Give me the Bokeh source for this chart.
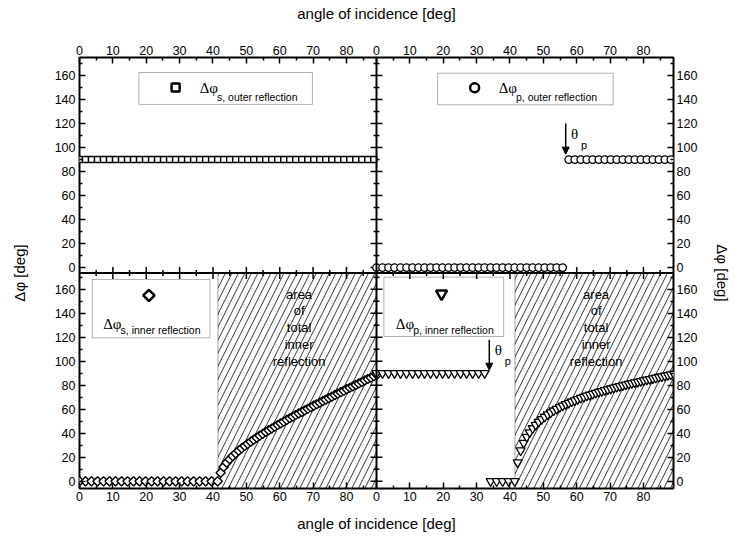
import math
from bokeh.plotting import figure
from bokeh.models import (Range1d, LinearAxis, FixedTicker, Span, BoxAnnotation,
                          Label, Arrow, NormalHead)
from bokeh.embed import file_html
from bokeh.resources import INLINE

# ---------------- data ----------------
ANGLES = [0.0, 1.8, 3.6, 5.4, 7.2, 9.0, 10.8, 12.6, 14.4, 16.2,
          18.0, 19.8, 21.6, 23.4, 25.2, 27.0, 28.8, 30.6, 32.4, 34.2,
          36.0, 37.8, 39.6, 41.4, 43.2, 45.0, 46.8, 48.6, 50.4, 52.2,
          54.0, 55.8, 57.6, 59.4, 61.2, 63.0, 64.8, 66.6, 68.4, 70.2,
          72.0, 73.8, 75.6, 77.4, 79.2, 81.0, 82.8, 84.6, 86.4, 88.2]

S_OUTER = [90, 90, 90, 90, 90, 90, 90, 90, 90, 90,
           90, 90, 90, 90, 90, 90, 90, 90, 90, 90,
           90, 90, 90, 90, 90, 90, 90, 90, 90, 90,
           90, 90, 90, 90, 90, 90, 90, 90, 90, 90,
           90, 90, 90, 90, 90, 90, 90, 90, 90, 90]

P_OUTER = [0, 0, 0, 0, 0, 0, 0, 0, 0, 0,
           0, 0, 0, 0, 0, 0, 0, 0, 0, 0,
           0, 0, 0, 0, 0, 0, 0, 0, 0, 0,
           0, 0, 90, 90, 90, 90, 90, 90, 90, 90,
           90, 90, 90, 90, 90, 90, 90, 90, 90, 90]

INNER_FLAT_X = [0.0, 1.8, 3.6, 5.4, 7.2, 9.0, 10.8, 12.6, 14.4, 16.2,
                18.0, 19.8, 21.6, 23.4, 25.2, 27.0, 28.8, 30.6, 32.4, 34.2,
                36.0, 37.8, 39.6, 41.4]
S_INNER_FLAT = [0, 0, 0, 0, 0, 0, 0, 0, 0, 0,
                0, 0, 0, 0, 0, 0, 0, 0, 0, 0,
                0, 0, 0, 0]
P_INNER_FLAT = [90, 90, 90, 90, 90, 90, 90, 90, 90, 90,
                90, 90, 90, 90, 90, 90, 90, 90, 90, 0,
                0, 0, 0, 0]

CURVE_X = [42.3, 43.2, 44.1, 45.0, 45.9, 46.8, 47.7, 48.6, 49.5, 50.4,
           51.3, 52.2, 53.1, 54.0, 54.9, 55.8, 56.7, 57.6, 58.5, 59.4,
           60.3, 61.2, 62.1, 63.0, 63.9, 64.8, 65.7, 66.6, 67.5, 68.4,
           69.3, 70.2, 71.1, 72.0, 72.9, 73.8, 74.7, 75.6, 76.5, 77.4,
           78.3, 79.2, 80.1, 81.0, 81.9, 82.8, 83.7, 84.6, 85.5, 86.4,
           87.3, 88.2, 89.1]
S_CURVE = [7.1, 12.0, 15.5, 18.4, 21.0, 23.3, 25.5, 27.5, 29.4, 31.2,
           33.0, 34.7, 36.3, 38.0, 39.5, 41.1, 42.6, 44.0, 45.5, 46.9,
           48.3, 49.7, 51.1, 52.5, 53.8, 55.2, 56.5, 57.8, 59.1, 60.4,
           61.7, 63.0, 64.2, 65.5, 66.8, 68.0, 69.3, 70.5, 71.8, 73.0,
           74.2, 75.4, 76.7, 77.9, 79.1, 80.3, 81.5, 82.7, 84.0, 85.2,
           86.4, 87.6, 88.8]
P_CURVE = [15.7, 25.6, 32.0, 36.9, 40.7, 44.1, 46.9, 49.4, 51.7, 53.7,
           55.6, 57.3, 58.9, 60.3, 61.7, 63.0, 64.2, 65.3, 66.4, 67.4,
           68.4, 69.4, 70.3, 71.2, 72.0, 72.8, 73.6, 74.4, 75.1, 75.8,
           76.5, 77.2, 77.9, 78.6, 79.2, 79.8, 80.5, 81.1, 81.7, 82.3,
           82.8, 83.4, 84.0, 84.6, 85.1, 85.7, 86.2, 86.8, 87.3, 87.9,
           88.4, 88.9, 89.5]

CRIT_ANGLE = 41.5
BREWSTER_OUTER = 56.7
BREWSTER_INNER = 33.8

X_MAJ = [0, 10, 20, 30, 40, 50, 60, 70, 80]
X_MIN = [5, 15, 25, 35, 45, 55, 65, 75, 85]
Y_MAJ = [0, 20, 40, 60, 80, 100, 120, 140, 160]
Y_MIN = [10, 30, 50, 70, 90, 110, 130, 150, 170]

X_TITLE = "angle of incidence [deg]"
Y_TITLE = "\u0394\u03c6 [deg]"

# ---------------- panel ranges ----------------
LEFT_X = (0, 89)
RIGHT_X = (0, 89)
TOP_Y = (-4.5, 175)
BOT_Y = (-6, 173.5)
XOFF = LEFT_X[1] - RIGHT_X[0]
YOFF = int(BOT_Y[1] - TOP_Y[0])

p = figure(width=734, height=535, output_backend="svg", toolbar_location=None,
           x_range=Range1d(LEFT_X[0], XOFF + RIGHT_X[1]),
           y_range=Range1d(BOT_Y[0], BOT_Y[1] + (TOP_Y[1] - TOP_Y[0])),
           x_axis_location=None, y_axis_location=None,
           min_border_left=79, min_border_right=56, min_border_top=57, min_border_bottom=47,
           background_fill_color="white", border_fill_color="white")
p.extra_x_ranges = {"xr": Range1d(RIGHT_X[0] - XOFF, RIGHT_X[1])}
p.extra_y_ranges = {"yt": Range1d(BOT_Y[0] - YOFF, TOP_Y[1])}
p.grid.visible = False
p.outline_line_color = "black"
p.outline_line_width = 2

FONT = "Liberation Sans"
SERIF = "Liberation Serif"

x_ticks = X_MAJ + [t + XOFF for t in X_MAJ]
x_minor = X_MIN + [t + XOFF for t in X_MIN]
x_over = {t + XOFF: str(t) for t in X_MAJ}
y_ticks = Y_MAJ + [t + YOFF for t in Y_MAJ]
y_minor = Y_MIN + [t + YOFF for t in Y_MIN]
y_over = {t + YOFF: str(t) for t in Y_MAJ}


def make_axis(ticks, minor, over, label, standoff, label_standoff):
    ax = LinearAxis(ticker=FixedTicker(ticks=ticks, minor_ticks=minor),
                    major_label_overrides=over, axis_label=label)
    ax.axis_line_color = None
    ax.major_tick_in = 6
    ax.major_tick_out = 0
    ax.minor_tick_in = 3
    ax.minor_tick_out = 0
    ax.major_tick_line_width = 1.5
    ax.minor_tick_line_width = 1.5
    ax.major_tick_line_color = "black"
    ax.minor_tick_line_color = "black"
    ax.major_label_text_font = FONT
    ax.major_label_text_font_size = "12.5px"
    ax.major_label_text_color = "black"
    ax.major_label_standoff = standoff
    ax.axis_label_text_font = FONT
    ax.axis_label_text_font_size = "15px"
    ax.axis_label_text_font_style = "normal"
    ax.axis_label_text_color = "black"
    ax.axis_label_standoff = label_standoff
    return ax


p.add_layout(make_axis(x_ticks, x_minor, x_over, X_TITLE, 3, 21), "above")
p.add_layout(make_axis(x_ticks, x_minor, x_over, X_TITLE, 3, 11), "below")
p.add_layout(make_axis(y_ticks, y_minor, y_over, Y_TITLE, 4, 24), "left")
p.add_layout(make_axis(y_ticks, y_minor, y_over, Y_TITLE, 3, 14), "right")

# middle separators
p.add_layout(Span(location=XOFF, dimension="height", line_color="black", line_width=2))
p.add_layout(Span(location=BOT_Y[1], dimension="width", line_color="black", line_width=2))

# hatched areas of total inner reflection
for xr, xend in (("default", LEFT_X[1]), ("xr", RIGHT_X[1])):
    p.add_layout(BoxAnnotation(left=CRIT_ANGLE, right=xend, bottom=BOT_Y[0], top=BOT_Y[1],
                               x_range_name=xr, fill_alpha=0, line_color="black", line_width=1.2,
                               hatch_pattern="/", hatch_scale=13, hatch_weight=0.8,
                               hatch_color="black", level="underlay"))

# legend boxes
LEG_BOXES = [("default", "yt", 17.8, 69.8, 135.9, 162.5),
             ("xr", "yt", 18.3, 70.9, 135.6, 161.9),
             ("default", "default", 3.8, 39.1, 119.5, 168.1),
             ("xr", "default", 2.2, 38.1, 120.6, 170.0)]
for xr, yr, l, r, b, t in LEG_BOXES:
    p.add_layout(BoxAnnotation(left=l, right=r, bottom=b, top=t, x_range_name=xr, y_range_name=yr,
                               fill_color="white", fill_alpha=1, line_color="black",
                               line_width=1, level="underlay"))


# inner edge ticks (panel frames meeting in the middle)
def edge_ticks(xs, ys, angle, length, xr, yr):
    p.ray(x=xs, y=ys, length=length, length_units="screen", angle=angle,
          line_color="black", line_width=1.5, x_range_name=xr, y_range_name=yr)


for ticks, ln in ((Y_MAJ, 6), (Y_MIN, 3)):
    edge_ticks([LEFT_X[1]] * len(ticks), ticks, math.pi, ln, "default", "yt")
    edge_ticks([RIGHT_X[0]] * len(ticks), ticks, 0, ln, "xr", "yt")
    edge_ticks([LEFT_X[1]] * len(ticks), ticks, math.pi, ln, "default", "default")
    edge_ticks([RIGHT_X[0]] * len(ticks), ticks, 0, ln, "xr", "default")
for ticks, ln in ((X_MAJ, 6), (X_MIN, 3)):
    edge_ticks(ticks, [TOP_Y[0]] * len(ticks), math.pi / 2, ln, "default", "yt")
    edge_ticks(ticks, [TOP_Y[0]] * len(ticks), math.pi / 2, ln, "xr", "yt")
    edge_ticks(ticks, [BOT_Y[1]] * len(ticks), -math.pi / 2, ln, "default", "default")
    edge_ticks(ticks, [BOT_Y[1]] * len(ticks), -math.pi / 2, ln, "xr", "default")

# data series
p.scatter(ANGLES, S_OUTER, marker="square", size=6, fill_color="white", line_color="black",
          line_width=1.4, y_range_name="yt")
p.scatter(ANGLES, P_OUTER, marker="circle", size=7.5, fill_color="white", line_color="black",
          line_width=1.3, x_range_name="xr", y_range_name="yt")
p.scatter(INNER_FLAT_X + CURVE_X, S_INNER_FLAT + S_CURVE, marker="square", angle=math.pi / 4,
          size=6.5, fill_color="white", line_color="black", line_width=1.4)
p.scatter(INNER_FLAT_X + CURVE_X, P_INNER_FLAT + P_CURVE, marker="inverted_triangle", size=9,
          fill_color="white", line_color="black", line_width=1.3, x_range_name="xr")

# legend markers
p.scatter([28.8], [150], marker="square", size=8, fill_color="white", line_color="black",
          line_width=2.5, y_range_name="yt")
p.scatter([29.4], [149.8], marker="circle", size=9, fill_color="white", line_color="black",
          line_width=2.5, x_range_name="xr", y_range_name="yt")
p.scatter([20.8], [154.8], marker="square", angle=math.pi / 4, size=8, fill_color="white",
          line_color="black", line_width=2.5)
p.scatter([19.5], [156.2], marker="inverted_triangle", size=11, fill_color="white",
          line_color="black", line_width=2.5, x_range_name="xr")


def label(x, y, text, xr="default", yr="default", font=FONT, size="10.5px", align="left"):
    p.add_layout(Label(x=x, y=y, text=text, x_range_name=xr, y_range_name=yr,
                       text_font=font, text_font_size=size, text_color="black",
                       text_align=align, text_baseline="middle"))


DPHI = "\u0394\u03c6"
label(36.0, 150, DPHI, yr="yt", font=SERIF, size="15px")
label(41.2, 142.5, "s, outer reflection", yr="yt")
label(36.6, 150, DPHI, xr="xr", yr="yt", font=SERIF, size="15px")
label(41.8, 142.5, "p, outer reflection", xr="xr", yr="yt")
label(7.1, 131.4, DPHI, font=SERIF, size="15px")
label(12.3, 126.0, "s, inner reflection")
label(5.8, 131.4, DPHI, xr="xr", font=SERIF, size="15px")
label(11.0, 126.0, "p, inner reflection", xr="xr")

AREA_LINES = ["area", "of", "total", "inner", "reflection"]
AREA_Y = [156, 142, 128, 114, 100]
for xr in ("default", "xr"):
    for txt, yy in zip(AREA_LINES, AREA_Y):
        label(65.8, yy, txt, xr=xr, size="13px", align="center")

# Brewster-angle arrows
p.add_layout(Arrow(end=NormalHead(size=7, fill_color="black", line_color="black"),
                   x_start=BREWSTER_OUTER, y_start=120, x_end=BREWSTER_OUTER, y_end=94.5,
                   x_range_name="xr", y_range_name="yt", line_width=1.5, line_color="black"))
label(58.3, 111.5, "\u03b8", xr="xr", yr="yt", font=SERIF, size="15px")
label(61.3, 102, "p", xr="xr", yr="yt", size="11px")
p.add_layout(Arrow(end=NormalHead(size=7, fill_color="black", line_color="black"),
                   x_start=BREWSTER_INNER, y_start=118, x_end=BREWSTER_INNER, y_end=92.5,
                   x_range_name="xr", line_width=1.5, line_color="black"))
label(35.4, 109, "\u03b8", xr="xr", font=SERIF, size="15px")
label(38.4, 100, "p", xr="xr", size="11px")

open("out.html", "w").write(file_html(p, INLINE))
